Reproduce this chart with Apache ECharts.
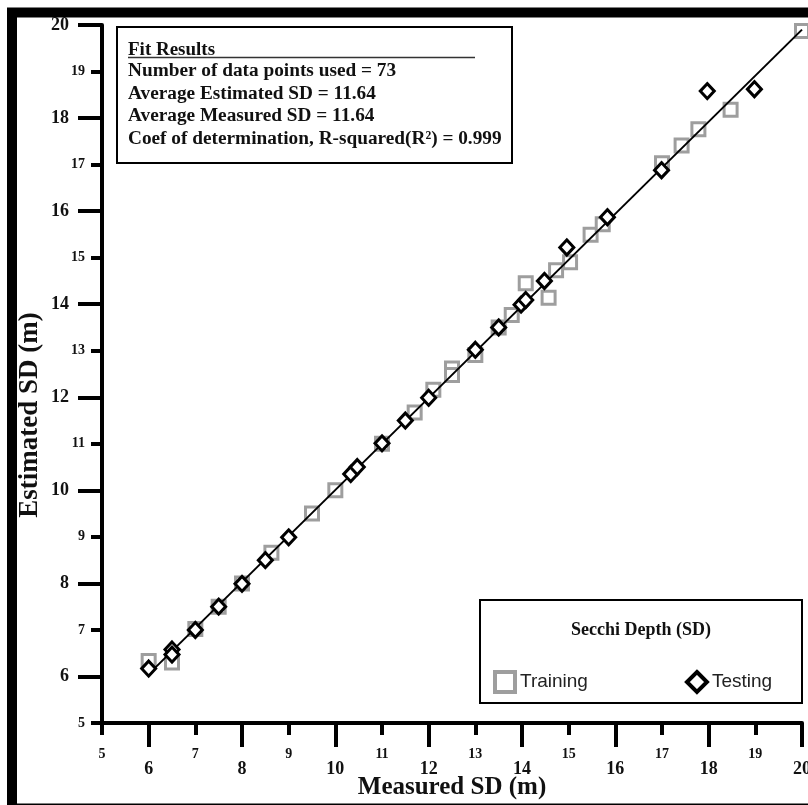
<!DOCTYPE html>
<html>
<head>
<meta charset="utf-8">
<title>Secchi Depth</title>
<script src="https://cdn.jsdelivr.net/npm/echarts@6/dist/echarts.min.js"></script>
<style>
  html, body { margin: 0; padding: 0; background: #fff; }
  #main { width: 808px; height: 805px; }
</style>
</head>
<body>
<div id="main"></div>
<script>
// Training (grey squares)
var trainX = [6.0, 6.5, 7.0, 7.5, 8.0, 8.63, 9.5, 10.0, 11.0, 11.7, 12.1, 12.5, 12.5, 13.0, 13.5, 13.78, 14.08, 14.57, 14.73, 15.03, 15.47, 15.73, 17.0, 17.42, 17.78, 18.47, 20.0];
var trainY = [6.33, 6.3, 7.02, 7.5, 8.0, 8.66, 9.5, 10.0, 11.0, 11.67, 12.16, 12.62, 12.48, 12.91, 13.5, 13.77, 14.45, 14.14, 14.73, 14.9, 15.49, 15.72, 17.03, 17.41, 17.76, 18.18, 19.87];
// Testing (black diamonds)
var testX = [6.0, 6.5, 6.5, 7.0, 7.5, 8.0, 8.5, 9.0, 10.33, 10.47, 11.0, 11.5, 12.0, 13.0, 13.5, 13.98, 14.08, 14.48, 14.96, 15.83, 16.99, 17.97, 18.98];
var testY = [6.17, 6.58, 6.47, 7.0, 7.5, 7.99, 8.5, 8.99, 10.35, 10.5, 11.01, 11.5, 11.99, 13.02, 13.5, 13.99, 14.09, 14.5, 15.22, 15.87, 16.88, 18.58, 18.62];
// fitted line end points
var fitX = [6.0, 20.0];
var fitY = [6.05, 19.9];
// tick labels
var majorTicks = [6, 8, 10, 12, 14, 16, 18, 20];
var minorTicks = [5, 7, 9, 11, 13, 15, 17, 19];
var fitLines = [
	'Number of data points used = 73',
	'Average Estimated SD = 11.64',
	'Average Measured SD = 11.64',
	'Coef of determination, R-squared(R\u00b2) = 0.999'
];

function pairs(xs, ys) {
	var out = [];
	for (var i = 0; i < xs.length; i++) {
		out.push([xs[i], ys[i]]);
	}
	return out;
}

var serif = 'Liberation Serif';
var chart = echarts.init(document.getElementById('main'));

// fit results box texts
var fitGraphic = [{
	type: 'text',
	left: 128, top: 41,
	style: { text: 'Fit Results', font: 'bold 19px "Liberation Serif"', fill: '#111' }
}, {
	type: 'line',
	shape: { x1: 128, y1: 57.5, x2: 475, y2: 57.5 },
	style: { stroke: '#333', lineWidth: 1.5 }
}];
for (var k = 0; k < fitLines.length; k++) {
	fitGraphic.push({
		type: 'text',
		left: 128, top: 62 + k * 22.5,
		style: { text: fitLines[k], font: 'bold 19.3px "Liberation Serif"', fill: '#111' }
	});
}

var option = {
	backgroundColor: '#fff',
	animation: false,
	grid: { left: 102, right: 6, top: 25, bottom: 82, outerBoundsMode: 'none' },
	legend: {
		data: ['Training', 'Testing'],
		left: 488,
		top: 665,
		itemWidth: 20,
		itemHeight: 20,
		itemGap: 97,
		itemStyle: { borderWidth: 4 },
		textStyle: { fontFamily: 'Liberation Sans', fontSize: 19, color: '#222' }
	},
	xAxis: [{
		type: 'value',
		min: 5, max: 20,
		position: 'bottom',
		name: 'Measured SD (m)',
		nameLocation: 'middle',
		nameGap: 52,
		nameMoveOverlap: false,
		nameTextStyle: { fontFamily: serif, fontWeight: 'bold', fontSize: 25, color: '#111' },
		axisLine: { show: true, lineStyle: { color: '#000', width: 4 } },
		axisTick: { show: true, customValues: majorTicks, length: 24, lineStyle: { color: '#000', width: 4 } },
		axisLabel: { customValues: majorTicks, margin: 37, fontFamily: serif, fontWeight: 'bold', fontSize: 18, color: '#111' },
		splitLine: { show: false }
	}, {
		type: 'value',
		min: 5, max: 20,
		position: 'bottom',
		offset: 0,
		axisLine: { show: false },
		axisTick: { show: true, customValues: minorTicks, length: 12, lineStyle: { color: '#000', width: 4 } },
		axisLabel: { customValues: minorTicks, margin: 24, fontFamily: serif, fontWeight: 'bold', fontSize: 14, color: '#111' },
		splitLine: { show: false }
	}],
	yAxis: [{
		type: 'value',
		min: 5, max: 20,
		position: 'left',
		name: 'Estimated SD (m)',
		nameLocation: 'middle',
		nameGap: 58,
		nameRotate: 90,
		nameMoveOverlap: false,
		nameTextStyle: { fontFamily: serif, fontWeight: 'bold', fontSize: 27, color: '#111', padding: [0, 82, 0, 0] },
		axisLine: { show: true, lineStyle: { color: '#000', width: 4 } },
		axisTick: { show: true, customValues: majorTicks, length: 24, lineStyle: { color: '#000', width: 4 } },
		axisLabel: { customValues: majorTicks, margin: 33, fontFamily: serif, fontWeight: 'bold', fontSize: 18, color: '#111' },
		splitLine: { show: false }
	}, {
		type: 'value',
		min: 5, max: 20,
		position: 'left',
		offset: 0,
		axisLine: { show: false },
		axisTick: { show: true, customValues: minorTicks, length: 11, lineStyle: { color: '#000', width: 4 } },
		axisLabel: { customValues: minorTicks, margin: 17, fontFamily: serif, fontWeight: 'bold', fontSize: 14, color: '#111' },
		splitLine: { show: false }
	}],
	series: [{
		name: 'Training',
		type: 'scatter',
		xAxisIndex: 0, yAxisIndex: 0,
		symbol: 'rect',
		symbolSize: 13,
		itemStyle: { color: '#fff', borderColor: '#9e9e9e', borderWidth: 3, opacity: 1 },
		data: pairs(trainX, trainY),
		z: 2
	}, {
		name: 'Fit',
		type: 'line',
		xAxisIndex: 0, yAxisIndex: 0,
		symbol: 'none',
		lineStyle: { color: '#000', width: 2 },
		data: pairs(fitX, fitY),
		z: 3
	}, {
		name: 'Testing',
		type: 'scatter',
		xAxisIndex: 0, yAxisIndex: 0,
		symbol: 'diamond',
		symbolSize: [14, 15],
		itemStyle: { color: '#fff', borderColor: '#000', borderWidth: 3, opacity: 1 },
		data: pairs(testX, testY),
		z: 4
	}],
	graphic: [{
		// outer black frame
		type: 'rect',
		shape: { x: 12, y: 12.5, width: 808, height: 796 },
		style: { fill: 'none', stroke: '#000', lineWidth: 10 },
		z: 100
	}, {
		// fit results box
		type: 'group',
		children: [{
			type: 'rect',
			shape: { x: 117, y: 27, width: 395, height: 136 },
			style: { fill: '#fff', stroke: '#000', lineWidth: 2 }
		}].concat(fitGraphic),
		z: 50
	}, {
		// legend frame and title
		type: 'group',
		children: [{
			type: 'rect',
			shape: { x: 480, y: 600, width: 322, height: 103 },
			style: { fill: 'none', stroke: '#000', lineWidth: 2 }
		}, {
			type: 'text',
			x: 641, y: 630,
			style: { text: 'Secchi Depth (SD)', font: 'bold 18px "Liberation Serif"', fill: '#111', align: 'center', verticalAlign: 'middle' }
		}],
		z: 50
	}]
};
chart.setOption(option);
</script>
</body>
</html>
